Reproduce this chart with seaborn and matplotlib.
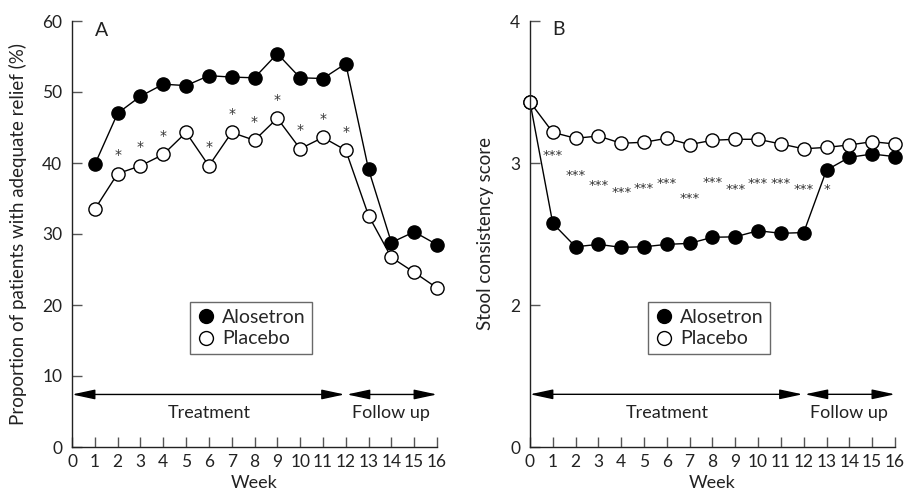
import seaborn as sns
import matplotlib.pyplot as plt
from matplotlib.lines import Line2D

# Panel A: proportion of patients with adequate relief (%)
weeks_a = list(range(1, 17))
a_alosetron = [39.8, 47.0, 49.4, 51.1, 50.9, 52.3, 52.1, 52.0, 55.4, 52.0, 51.9, 54.0, 39.1, 28.8, 30.3, 28.5]
a_placebo = [33.5, 38.5, 39.6, 41.2, 44.3, 39.6, 44.3, 43.2, 46.3, 42.0, 43.6, 41.8, 32.6, 26.7, 24.6, 22.4]
a_sig_weeks = [2, 3, 4, 6, 7, 8, 9, 10, 11, 12]

# Panel B: stool consistency score
weeks_b = list(range(0, 17))
b_alosetron = [3.43, 2.575, 2.41, 2.427, 2.406, 2.41, 2.427, 2.434, 2.477, 2.48, 2.523, 2.505, 2.51, 2.95, 3.04, 3.063, 3.045]
b_placebo = [3.43, 3.216, 3.174, 3.19, 3.139, 3.146, 3.174, 3.13, 3.16, 3.167, 3.167, 3.134, 3.10, 3.11, 3.127, 3.15, 3.134]
b_sig_weeks = [1, 2, 3, 4, 5, 6, 7, 8, 9, 10, 11, 12, 13]
b_sig_labels = ['***'] * 12 + ['*']
b_sig_y = [3.05, 2.915, 2.845, 2.79, 2.82, 2.857, 2.75, 2.86, 2.815, 2.857, 2.857, 2.81, 2.81]

sns.set_style("ticks")
plt.rcParams['font.family'] = ['Lato', 'DejaVu Sans']

fig = plt.figure(figsize=(9.07, 5.0), dpi=100)
ax_a = fig.add_axes([0.0794, 0.106, 0.4024, 0.852])
ax_b = fig.add_axes([0.5843, 0.106, 0.4024, 0.852])

mk = dict(marker='o', markersize=9.5, color='black', linewidth=1.0,
          markeredgecolor='black', markeredgewidth=1.0, clip_on=False)


def draw_series(ax, x, alo, pla):
    sns.lineplot(x=x, y=alo, ax=ax, markerfacecolor='black', estimator=None, **mk)
    sns.lineplot(x=x, y=pla, ax=ax, markerfacecolor='white', estimator=None, **mk)


def style_axes(ax, arrow_y, text_y):
    ax.set_xlim(0, 16)
    ax.set_xticks(range(0, 17))
    for s in ['top', 'right']:
        ax.spines[s].set_visible(False)
    for s in ['left', 'bottom']:
        ax.spines[s].set_color('#222222')
        ax.spines[s].set_linewidth(1.0)
    ax.tick_params(direction='in', length=7, width=1.0, color='#555555',
                   labelsize=12.5, colors='#222222')
    ax.tick_params(axis='y', pad=7)
    ax.tick_params(axis='x', pad=5)
    ax.set_xlabel('Week', fontsize=13, color='#222222', labelpad=4)
    arrow = dict(arrowstyle='<|-|>,head_length=1.4,head_width=0.3',
                 color='black', lw=1.0, shrinkA=0, shrinkB=0)
    ax.annotate('', xy=(0, arrow_y), xytext=(11.95, arrow_y), arrowprops=arrow)
    ax.annotate('', xy=(12.05, arrow_y), xytext=(16, arrow_y), arrowprops=arrow)
    ax.text(6, text_y, 'Treatment', ha='center', va='center', fontsize=13, color='#222222')
    ax.text(14, text_y, 'Follow up', ha='center', va='center', fontsize=13, color='#222222')
    handles = [
        Line2D([], [], marker='o', linestyle='none', markersize=10,
               markerfacecolor='black', markeredgecolor='black'),
        Line2D([], [], marker='o', linestyle='none', markersize=10,
               markerfacecolor='white', markeredgecolor='black'),
    ]
    leg = ax.legend(handles, ['Alosetron', 'Placebo'], loc='upper left',
                    bbox_to_anchor=(0.323, 0.341), fontsize=14, frameon=True,
                    fancybox=False, handletextpad=0.3, handlelength=1.0,
                    borderpad=0.35, labelspacing=0.25, borderaxespad=0)
    leg.get_frame().set_edgecolor('#444444')
    leg.get_frame().set_linewidth(1.0)


# Panel A
draw_series(ax_a, weeks_a, a_alosetron, a_placebo)
ax_a.set_ylim(0, 60)
ax_a.set_yticks(range(0, 61, 10))
ax_a.set_ylabel('Proportion of patients with adequate relief (%)', fontsize=13.5, color='#222222')
style_axes(ax_a, 7.4, 4.8)
for w in a_sig_weeks:
    ax_a.text(w, a_placebo[w - 1] + 2.6, '*', ha='center', va='center',
              fontsize=10, color='#333333', family='DejaVu Sans')
ax_a.text(1.3, 58.7, 'A', ha='center', va='center', fontsize=14, color='#222222')

# Panel B (axis truncated: bottom tick labelled 0)
draw_series(ax_b, weeks_b, b_alosetron, b_placebo)
ax_b.set_ylim(1, 4)
ax_b.set_yticks([1, 2, 3, 4])
ax_b.set_yticklabels(['0', '2', '3', '4'])
ax_b.set_ylabel('Stool consistency score', fontsize=13.5, color='#222222')
style_axes(ax_b, 1.371, 1.24)
for w, lab, yy in zip(b_sig_weeks, b_sig_labels, b_sig_y):
    ax_b.text(w, yy, lab, ha='center', va='center', fontsize=9.5,
              color='#333333', family='DejaVu Sans')
ax_b.text(1.27, 3.94, 'B', ha='center', va='center', fontsize=14, color='#222222')

ax_a.yaxis.set_label_coords(-0.123, 0.5)
ax_b.yaxis.set_label_coords(-0.099, 0.5)

fig.savefig('out.png', dpi=100)
